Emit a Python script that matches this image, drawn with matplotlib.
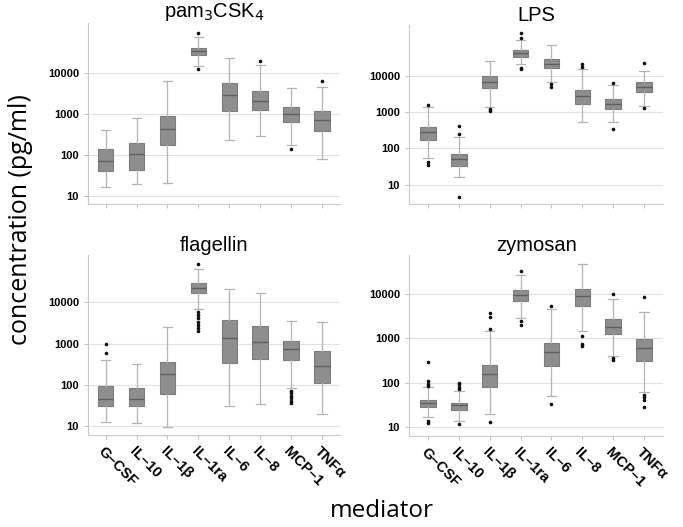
import numpy as np
import matplotlib
matplotlib.use('Agg')
import matplotlib.pyplot as plt

mediators = ['G–CSF', 'IL–10', 'IL–1β', 'IL–1ra', 'IL–6', 'IL–8', 'MCP–1', 'TNFα']
yticks = [10, 100, 1000, 10000]

# five-number summaries per mediator: whisker low, Q1, median, Q3, whisker high
pam_stats = [[17, 42, 72, 140, 420], [20, 44, 105, 195, 800], [21, 180, 430, 910, 6500],
             [14500, 27000, 35000, 42000, 74000], [235, 1200, 2900, 5900, 23000],
             [295, 1280, 2150, 3700, 15400], [180, 630, 1000, 1480, 4300], [81, 400, 720, 1170, 4500]]
pam_fliers = [[], [], [], [95000, 12800], [], [20000], [142], [6300]]

lps_stats = [[53, 166, 275, 390, 1400], [16, 33, 49, 69, 200], [1400, 4450, 6800, 9800, 26000],
             [21000, 33500, 41500, 51000, 95000], [6800, 16000, 21000, 28000, 72000],
             [520, 1620, 2750, 4000, 15300], [520, 1230, 1650, 2270, 5500], [1450, 3470, 5000, 6800, 13700]]
lps_fliers = [[1550, 43, 35], [410, 245, 4.6], [1200, 1050], [148000, 110000, 16600, 15300],
              [5900, 5000], [20500, 17000], [6100, 350], [22000, 1250]]

fla_stats = [[13, 32, 45, 96, 400], [12, 31, 45, 87, 325], [9.8, 60, 182, 355, 2500],
             [6800, 16500, 22500, 30000, 64000], [32, 350, 1400, 3730, 21000],
             [35, 420, 1120, 2700, 16500], [87, 400, 740, 1160, 3600], [20, 115, 290, 650, 3300]]
fla_fliers = [[980, 590], [], [], [87000, 5900, 4900, 4100, 3400, 2800, 2350, 2050], [], [],
              [71, 63, 55, 48, 42, 36], []]

zym_stats = [[17, 28, 34, 41, 78], [13.5, 24, 31, 35.5, 65], [20, 81, 155, 250, 1470],
             [2900, 6900, 9600, 12100, 26000], [51, 240, 490, 780, 4600],
             [1450, 5350, 9000, 13200, 47500], [400, 1230, 1780, 2650, 7800], [61, 310, 610, 960, 3900]]
zym_fliers = [[290, 110, 91, 83, 13.8, 12.6], [100, 91, 81, 71, 11.7], [3700, 2950, 1650, 13.2],
              [32500, 2450, 2000], [5200, 33], [1110, 760, 660], [10000, 360, 320],
              [8600, 54, 48, 40, 28]]

W, H = 683, 527
fig = plt.figure(figsize=(W / 100, H / 100), dpi=100)


def px_axes(left, right, top, bottom):
    return fig.add_axes([left / W, 1 - bottom / H, (right - left) / W, (bottom - top) / H])


def draw_panel(ax, stats, fliers, title, ylim, xlim, show_labels, pad):
    bxp_stats = []
    for s, f in zip(stats, fliers):
        bxp_stats.append({'whislo': s[0], 'q1': s[1], 'med': s[2], 'q3': s[3],
                          'whishi': s[4], 'fliers': f})
    ax.bxp(bxp_stats, positions=range(1, 9), widths=0.5, patch_artist=True,
           capwidths=0.3,
           boxprops=dict(facecolor='#8e8e8e', edgecolor='#7c7c7c', linewidth=0.8),
           medianprops=dict(color='#5e5e5e', linewidth=1.0),
           whiskerprops=dict(color='#b4b4b4', linewidth=0.9),
           capprops=dict(color='#b4b4b4', linewidth=0.9),
           flierprops=dict(marker='o', markersize=1.6, markerfacecolor='#111111',
                           markeredgecolor='#111111'))
    ax.set_yscale('log')
    ax.set_ylim(*ylim)
    ax.set_xlim(*xlim)
    ax.set_yticks(yticks)
    ax.set_yticklabels([str(t) for t in yticks], fontsize=8, fontweight='bold',
                       family='Liberation Sans')
    ax.yaxis.set_minor_locator(matplotlib.ticker.NullLocator())
    ax.grid(axis='y', color='#e2e2e2', linewidth=0.8)
    ax.set_axisbelow(True)
    for side in ['top', 'right']:
        ax.spines[side].set_visible(False)
    for side in ['left', 'bottom']:
        ax.spines[side].set_color('#c8c8c8')
        ax.spines[side].set_linewidth(0.8)
    ax.tick_params(colors='#c0c0c0', length=3, width=0.7, labelcolor='black')
    ax.set_xticks(range(1, 9))
    if show_labels:
        ax.set_xticklabels(mediators, rotation=-45, ha='left', va='top',
                           rotation_mode='anchor', fontsize=10.5, fontweight='bold',
                           family='Liberation Sans')
    else:
        ax.set_xticklabels([])
    ax.set_title(title, fontsize=14.5, family='Liberation Sans', pad=pad)


ax1 = px_axes(88, 340, 23, 204)
draw_panel(ax1, pam_stats, pam_fliers, 'pam$_3$CSK$_4$', (6.5, 166000), (0.43, 8.58), False, -3)
ax2 = px_axes(409, 663, 25, 204)
draw_panel(ax2, lps_stats, lps_fliers, 'LPS', (2.9, 250000), (0.38, 8.62), False, -2)
ax3 = px_axes(88, 340, 255, 435)
draw_panel(ax3, fla_stats, fla_fliers, 'flagellin', (6.2, 140000), (0.43, 8.58), True, 0)
ax4 = px_axes(409, 663, 255, 436)
draw_panel(ax4, zym_stats, zym_fliers, 'zymosan', (6.3, 75000), (0.38, 8.62), True, 2)

fig.text(21 / W, 1 - 220 / H, 'concentration (pg/ml)', rotation=90, ha='center', va='center',
         fontsize=18, family='Open Sans')
fig.text(382 / W, 1 - 511 / H, 'mediator', ha='center', va='center',
         fontsize=17.5, family='Open Sans')

fig.savefig('out.png', dpi=100)
